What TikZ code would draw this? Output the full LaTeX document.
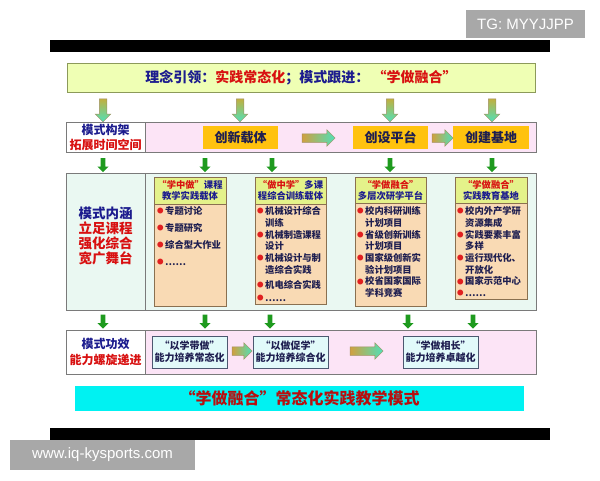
\documentclass[tikz,border=0pt]{standalone}
\usepackage{fontspec}
\setmainfont{Noto Sans CJK SC}
\newfontfamily\wmfont{Liberation Sans}
\usetikzlibrary{shapes.arrows}
\definecolor{topbg}{HTML}{EFFFB4}
\definecolor{topbd}{HTML}{8C9A5A}
\definecolor{rowbd}{HTML}{7A7A7A}
\definecolor{pinkbg}{HTML}{FCE4F6}
\definecolor{mintbg}{HTML}{EAF8F2}
\definecolor{goldbox}{HTML}{FFC20E}
\definecolor{cardbd}{HTML}{8A7050}
\definecolor{cardhead}{HTML}{E4F28A}
\definecolor{cardbody}{HTML}{F9DAB4}
\definecolor{effbd}{HTML}{4C5870}
\definecolor{effbg}{HTML}{E2FAFA}
\definecolor{cyanbg}{HTML}{00F2F2}
\definecolor{ttblue}{HTML}{1C1C8E}
\definecolor{ttred}{HTML}{D81010}
\definecolor{ttdark}{HTML}{1E1E50}
\definecolor{bulred}{HTML}{E02020}
\definecolor{arrtop}{HTML}{C0B040}
\definecolor{arrbot}{HTML}{50E0B8}
\definecolor{arrleft}{HTML}{D0A040}
\definecolor{arrbd}{HTML}{A09060}
\definecolor{arrgreen}{HTML}{1E9A1E}
\definecolor{wmgray}{HTML}{A8A8A8}
\newcommand\bul{\makebox[8pt][l]{\raisebox{0.8pt}{\textcolor{bulred}{\fontsize{6.5}{6.5}\selectfont ●}}}}
\newcommand\ind{\hspace*{8pt}}
\tikzset{
  cellL/.style={draw=rowbd,line width=0.8pt,fill=white,minimum width=79pt,inner sep=0pt,align=center},
  cellR/.style={draw=rowbd,line width=0.8pt,fill=pinkbg,minimum width=391pt,inner sep=0pt},
  goldbox/.style={fill=goldbox,minimum width=75pt,minimum height=23pt,inner sep=0pt,text=ttdark,font=\bfseries\fontsize{13}{13}\selectfont},
  cardhead/.style={draw=cardbd,fill=cardhead,line width=0.6pt,inner sep=0pt,minimum height=27pt,align=center,text=ttblue,font=\bfseries\fontsize{9.3}{11}\selectfont},
  cardbody/.style={draw=cardbd,fill=cardbody,line width=0.6pt,inner sep=0pt},
  cardtext/.style={anchor=north west,inner sep=0pt,align=left,text=ttdark,font=\bfseries\fontsize{9.3}{11.7}\selectfont},
  effbox/.style={draw=effbd,fill=effbg,line width=0.8pt,minimum width=75pt,minimum height=32pt,inner sep=0pt,align=center,text=ttdark,font=\bfseries\fontsize{10}{12}\selectfont},
  dnarrow/.style={single arrow,shape border rotate=270,draw=arrbd,line width=0.5pt,top color=arrtop,bottom color=arrbot,minimum height=23pt,minimum width=15pt,inner sep=3.5pt,single arrow head extend=4pt},
  rtarrow/.style={single arrow,draw=arrbd,line width=0.5pt,left color=arrleft,right color=arrbot,minimum width=16pt,inner sep=4pt,single arrow head extend=4pt},
  grarrow/.style={single arrow,shape border rotate=270,fill=arrgreen,minimum height=14pt,minimum width=11pt,inner sep=2.2pt,single arrow head extend=3.3pt},
  watermark/.style={fill=wmgray,inner sep=0pt,text=white,font=\wmfont\fontsize{15}{15}\selectfont}
}
\begin{document}
\begin{tikzpicture}[x=1pt,y=-1pt]
     \useasboundingbox[fill=white] (0,0) rectangle (600,480);

     \node[watermark,minimum width=119pt,minimum height=28pt] (tg) at (525.5,24) {TG: MYYJJPP};
     \node[fill=black,minimum width=500pt,minimum height=12pt,inner sep=0pt] (barT) at (300,46) {};
     \node[fill=black,minimum width=500pt,minimum height=12pt,inner sep=0pt] (barB) at (300,434) {};
     \node[watermark,minimum width=185pt,minimum height=30pt] (web) at (102.5,455) {www.iq-kysports.com};

     \node[draw=topbd,line width=0.8pt,fill=topbg,minimum width=468pt,minimum height=29pt,inner sep=0pt,
           font=\bfseries\fontsize{14}{14}\selectfont,text=ttblue] (idea) at (301,77.5)
           {理念引领：\textcolor{ttred}{实践常态化}；模式跟进：\ \textcolor{ttred}{“学做融合”}};

     \foreach \x [count=\i] in {103,240,390,492}
       \node[dnarrow] (dn\i) at (\x,108.5) {};

     \node[cellR,minimum height=30pt] (frmR) at (340.5,137) {};
     \node[cellL,minimum height=30pt,font=\bfseries\fontsize{12}{15}\selectfont] (frmL) at (105.5,137)
           {\textcolor{ttblue}{模式构架}\\\textcolor{ttred}{拓展时间空间}};
     \node[goldbox] (carrier) at (240.5,137.5) {创新载体};
     \node[goldbox] (platform) at (390.5,137.5) {创设平台};
     \node[goldbox,minimum width=76pt] (base) at (491,137.5) {创建基地};
     \node[rtarrow,minimum height=33pt] (r1) at (316.5,138) {};
     \node[rtarrow,minimum height=21pt] (r2) at (440.5,138) {};

     \foreach \x [count=\i] in {103,205,272,390,492}
       \node[grarrow] (ga\i) at (\x,164) {};

     \node[cellR,fill=mintbg,minimum height=137pt] (conR) at (340.5,241.5) {};
     \node[cellL,fill=mintbg,minimum height=137pt] (conL) at (105.5,241.5) {};
     \node[align=center,inner sep=0pt,font=\bfseries\fontsize{13.5}{15}\selectfont,text=ttred] (conTxt) at (105.5,235.5)
           {\textcolor{ttblue}{模式内涵}\\立足课程\\强化综合\\宽广舞台};

     \node[cardbody,minimum width=72pt,minimum height=102pt] (c1b) at (190,255) {};
     \node[cardhead,minimum width=72pt] (c1h) at (190,190.5) {\textcolor{ttred}{“学中做”}课程\\教学实践载体};
     \node[cardtext] (c1t) at (157,206.5)
           {\bul 专题讨论\\[5.3pt]\bul 专题研究\\[5.3pt]\bul 综合型大作业\\[5.3pt]\bul ……};

     \node[cardbody,minimum width=71pt,minimum height=100pt] (c2b) at (290.5,254) {};
     \node[cardhead,minimum width=71pt] (c2h) at (290.5,190.5) {\textcolor{ttred}{“做中学”}多课\\程综合训练载体};
     \node[cardtext] (c2t) at (257,206.5)
           {\bul 机械设计综合\\\ind 训练\\\bul 机械制造课程\\\ind 设计\\\bul 机械设计与制\\\ind 造综合实践\\[3.3pt]\bul 机电综合实践\\[1.3pt]\bul ……};

     \node[cardbody,minimum width=71pt,minimum height=103pt] (c3b) at (390.5,254.5) {};
     \node[cardhead,minimum width=71pt,minimum height=26pt] (c3h) at (390.5,190) {\textcolor{ttred}{“学做融合”}\\多层次研学平台};
     \node[cardtext] (c3t) at (357,206.5)
           {\bul 校内科研训练\\\ind 计划项目\\\bul 省级创新训练\\\ind 计划项目\\\bul 国家级创新实\\\ind 验计划项目\\\bul 校省国家国际\\\ind 学科竞赛};

     \node[cardbody,minimum width=72pt,minimum height=96pt] (c4b) at (491,251) {};
     \node[cardhead,minimum width=72pt,minimum height=26pt] (c4h) at (491,190) {\textcolor{ttred}{“学做融合”}\\实践教育基地};
     \node[cardtext] (c4t) at (457,206.5)
           {\bul 校内外产学研\\\ind 资源集成\\\bul 实践要素丰富\\\ind 多样\\\bul 运行现代化、\\\ind 开放化\\\bul 国家示范中心\\\bul ……};

     \foreach \x [count=\i] in {103,205,270,408,473}
       \node[grarrow] (gb\i) at (\x,320.5) {};

     \node[cellR,minimum height=44pt] (effR) at (340.5,352) {};
     \node[cellL,minimum height=44pt,font=\bfseries\fontsize{12}{16}\selectfont] (effL) at (105.5,352)
           {\textcolor{ttblue}{模式功效}\\\textcolor{ttred}{能力螺旋递进}};
     \node[effbox] (e1) at (189.5,352) {“以学带做”\\能力培养常态化};
     \node[effbox] (e2) at (290.5,352) {“以做促学”\\能力培养综合化};
     \node[effbox] (e3) at (440.5,352) {“学做相长”\\能力培养卓越化};
     \node[rtarrow,minimum height=20pt] (r3) at (240,351) {};
     \node[rtarrow,minimum height=33pt] (r4) at (364.5,351) {};

     \node[fill=cyanbg,minimum width=449pt,minimum height=25pt,inner sep=0pt,text=ttred!85!black,
           font=\bfseries\fontsize{16}{16}\selectfont] (mode) at (299.5,398.5) {“学做融合”常态化实践教学模式};
\end{tikzpicture}
\end{document}
